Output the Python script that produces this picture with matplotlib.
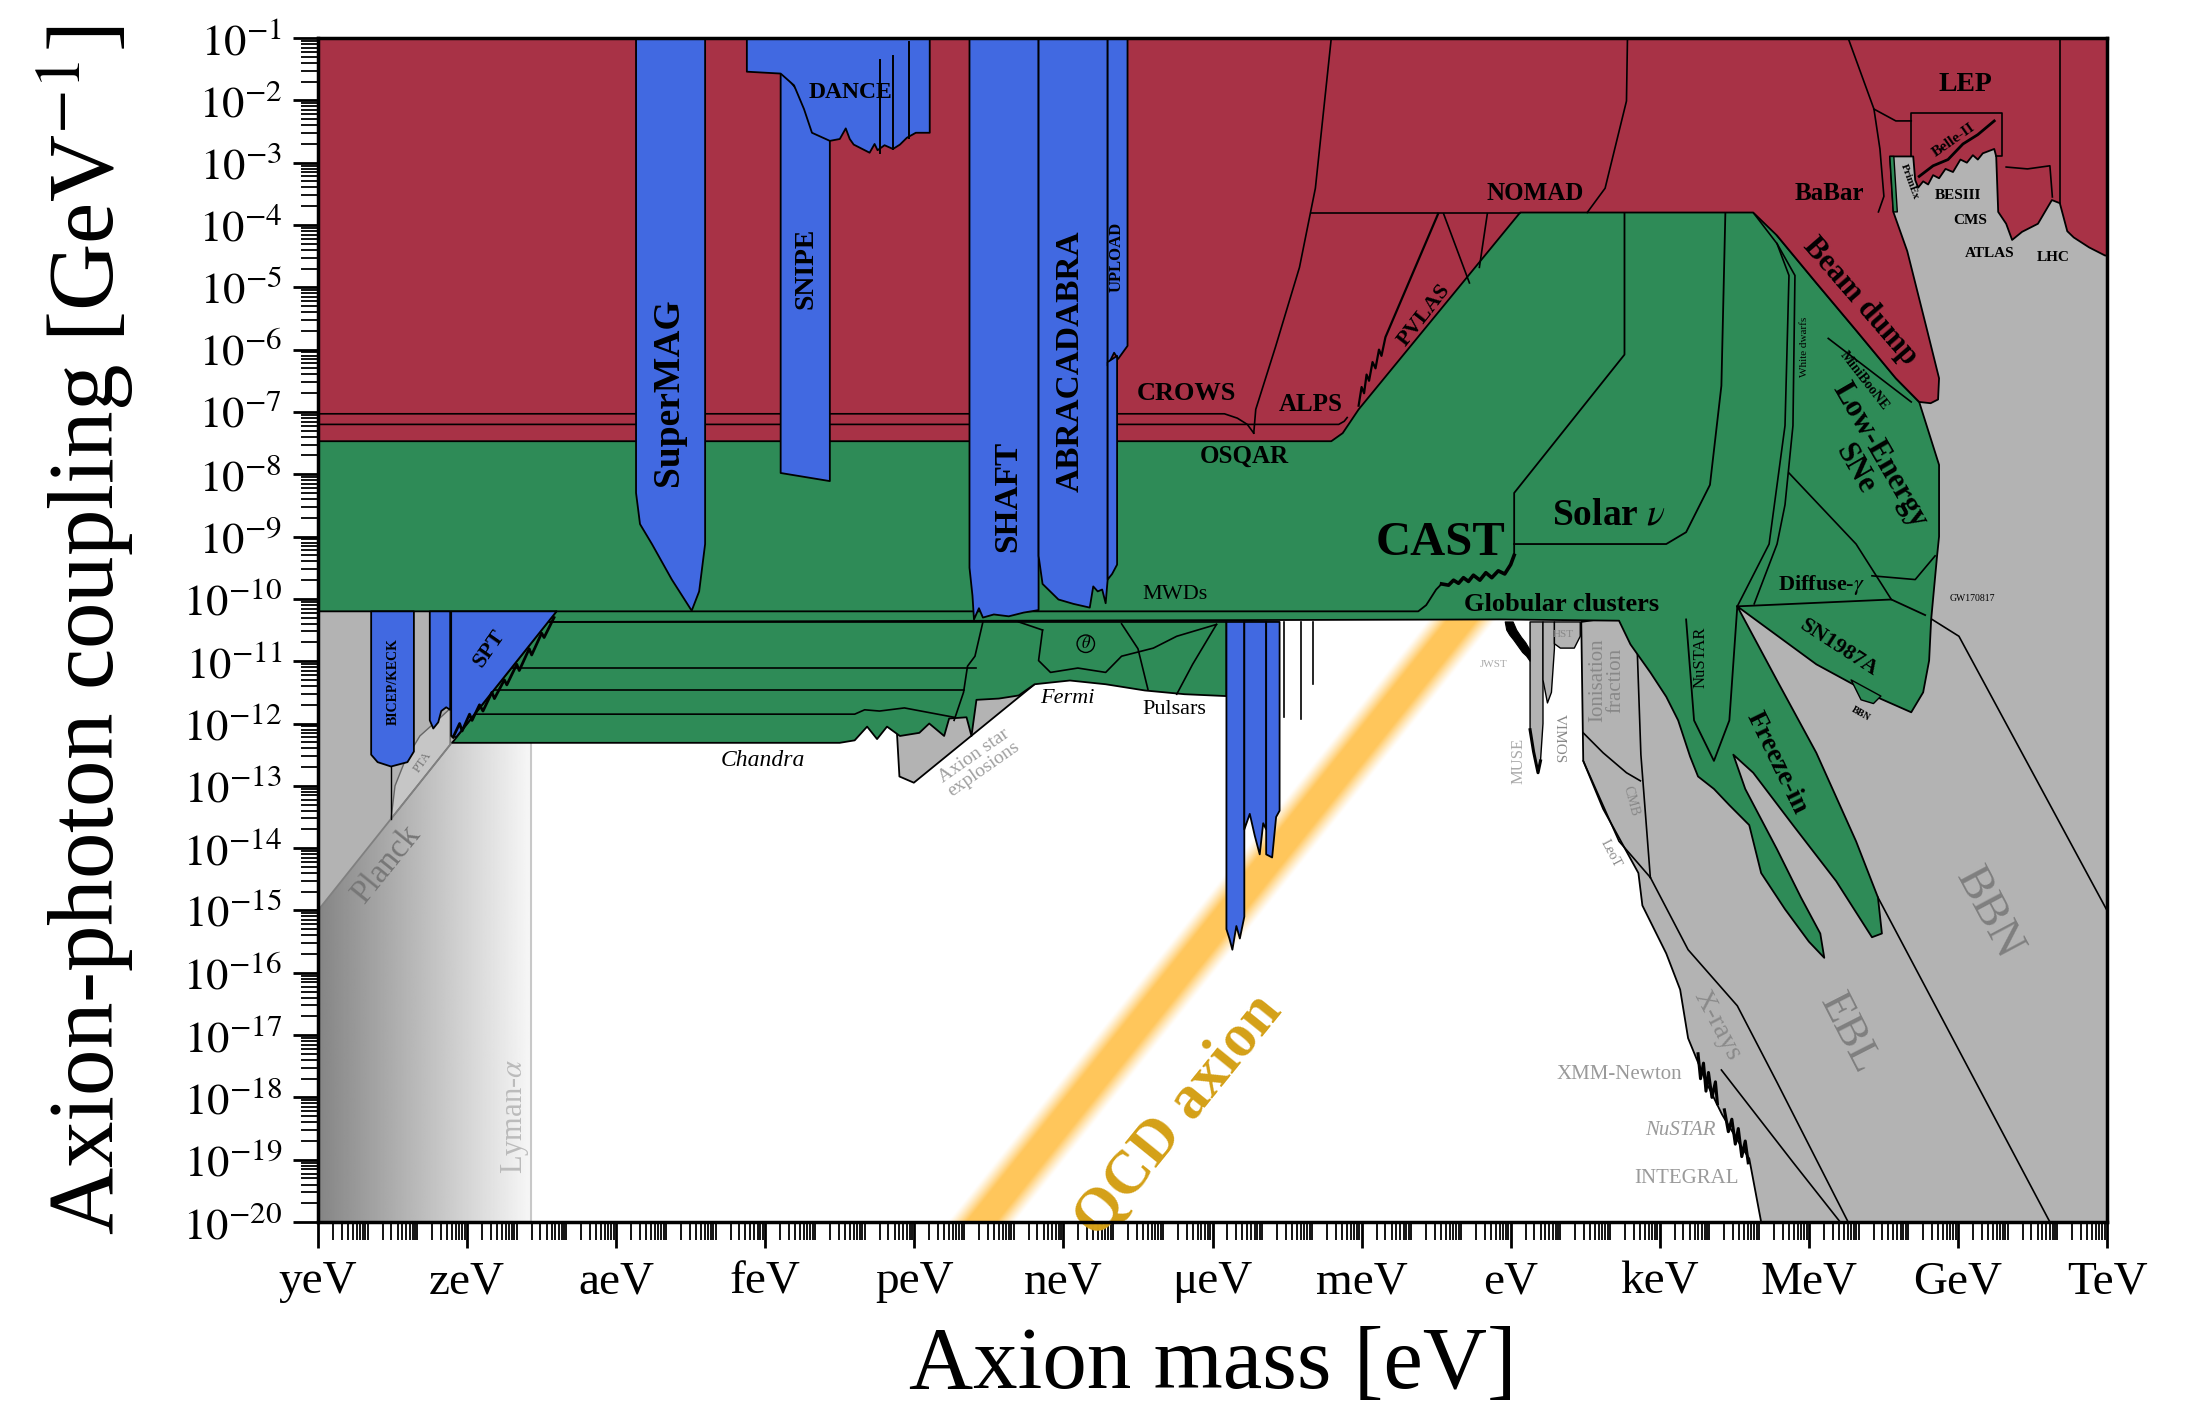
import numpy as np
import matplotlib.pyplot as plt
from matplotlib.patches import Polygon, Ellipse

plt.rcParams['font.family'] = ['Liberation Serif', 'DejaVu Serif']
plt.rcParams['mathtext.fontset'] = 'stix'

RED = '#A83246'
BLUE = '#4169E1'
GREEN = '#2E8B57'
GREY = '#B3B3B3'

# every boundary below is a list of (log10 m_a [eV], log10 g_agg [GeV^-1])

mass_ticks = [-24, -21, -18, -15, -12, -9, -6, -3, 0, 3, 6, 9, 12]
mass_names = ['yeV', 'zeV', 'aeV', 'feV', 'peV', 'neV', 'μeV', 'meV', 'eV',
              'keV', 'MeV', 'GeV', 'TeV']
coupling_ticks = list(range(-20, 0))

# ---- lab searches (LSW, polarimetry, beam dumps, colliders) ----
lab = [(-24, -1), (12, -1), (12, -4.49), (11.96, -4.49), (11.64, -4.36),
       (11.33, -4.20), (11.2, -4.10), (11.05, -3.65), (10.89, -3.60),
       (10.61, -3.98), (10.29, -4.11), (10.09, -4.24), (9.97, -3.98),
       (9.81, -3.79), (9.77, -2.90), (9.73, -2.78), (9.5, -2.85), (9.4, -2.95),
       (9.3, -2.88), (9.18, -3.0), (9.05, -2.95), (8.9, -3.15), (8.75, -3.1),
       (8.62, -3.25), (8.5, -3.2), (8.4, -3.35), (8.3, -3.3), (8.2, -3.4),
       (8.14, -3.28), (8.10, -2.90), (7.63, -2.90), (7.70, -3.79),
       (7.98, -4.42), (8.38, -5.69), (8.62, -6.46), (8.60, -6.80),
       (8.45, -6.86), (8.22, -6.84), (7.75, -6.46), (6.95, -5.69),
       (6.15, -4.93), (5.36, -4.17), (4.88, -3.80), (0.19, -3.80),
       (-3.06, -6.96), (-3.38, -7.34), (-3.61, -7.47), (-24, -7.47)]
primex = [(7.63, -2.90), (7.71, -2.90), (7.78, -3.79), (7.70, -3.79)]
crows = [(-24, -7.03), (-5.76, -7.03), (-5.5, -7.1), (-5.3, -7.2), (-5.17, -7.34)]
alps = [(-24, -7.20), (-3.46, -7.20), (-3.35, -7.15), (-3.29, -7.09)]
alps_hi = [(-5.17, -7.34), (-5.13, -6.96), (-4.73, -5.95), (-4.25, -4.68),
           (-3.93, -3.41), (-3.61, -1.0)]
nomad = [(-4.01, -3.80), (0.19, -3.80)]
nomad_edge = [(1.54, -3.80), (1.90, -3.41), (2.33, -2.01), (2.35, -1.0)]
pvlas = [(-3.06, -6.9), (-3.0, -6.6), (-2.95, -6.7), (-2.9, -6.4), (-2.85, -6.5),
         (-2.78, -6.2), (-2.72, -6.3), (-2.65, -6.0), (-2.6, -6.1), (-2.52, -5.8),
         (-1.46, -3.82)]
alps2 = [(-0.83, -4.93), (-1.35, -3.82)]
pvlas2 = [(-0.63, -4.68), (-0.47, -3.82)]
babar = [(6.79, -1.0), (7.31, -2.14), (7.43, -2.78), (7.51, -3.54), (7.40, -3.79)]
lep_low = [(7.31, -2.14), (7.75, -2.33), (8.06, -2.33)]
lep_box = [(8.06, -2.90), (8.06, -2.20), (9.89, -2.20), (9.89, -2.90), (9.77, -2.90)]
belle = [(8.22, -3.22), (8.5, -3.05), (8.8, -2.95), (9.1, -2.7), (9.4, -2.55), (9.73, -2.33)]
cms = [(9.97, -3.07), (10.4, -3.1), (10.85, -3.05), (10.9, -3.55)]
lhc = [(11.05, -1.0), (11.05, -3.65)]
miniboone = [(6.39, -5.82), (8.06, -6.84)]

# ---- haloscopes and dark-matter searches ----
supermag = [(-17.60, -1), (-17.60, -8.30), (-17.52, -8.80), (-17.28, -9.12),
            (-16.88, -9.69), (-16.48, -10.19), (-16.33, -9.88), (-16.21, -9.12),
            (-16.21, -1)]
snipe = [(-14.69, -1.5), (-14.69, -7.98), (-13.70, -8.11), (-13.70, -2.5)]
dance = [(-15.37, -1), (-15.37, -1.54), (-14.69, -1.57), (-14.42, -1.76),
         (-14.22, -2.14), (-14.06, -2.52), (-13.70, -2.65), (-13.50, -2.62),
         (-13.38, -2.45), (-13.30, -2.62), (-13.22, -2.71), (-12.90, -2.84),
         (-12.80, -2.70), (-12.74, -2.80), (-12.60, -2.72), (-12.43, -2.78),
         (-12.29, -2.71), (-12.15, -2.60), (-11.97, -2.52), (-11.69, -2.52),
         (-11.69, -1)]
dance_spikes = [(-12.70, -1.35, -2.84), (-12.43, -1.29, -2.78), (-12.11, -1.06, -2.60)]
shaft = [(-10.89, -1), (-10.89, -9.50), (-10.83, -9.95), (-10.80, -10.33),
         (-10.70, -10.15), (-10.62, -10.30), (-10.40, -10.25), (-10.10, -10.28),
         (-9.80, -10.22), (-9.50, -10.18), (-9.50, -1)]
abracadabra = [(-9.50, -1), (-9.50, -9.31), (-9.42, -9.76), (-9.10, -10.01),
               (-8.80, -10.08), (-8.47, -10.14), (-8.40, -9.80), (-8.31, -9.88),
               (-8.22, -9.85), (-8.15, -10.07), (-8.11, -9.69), (-8.11, -1)]
upload = [(-8.11, -1), (-8.11, -6.26), (-7.98, -6.05), (-7.90, -6.15),
          (-7.71, -5.94), (-7.71, -1)]
abra_strip = [(-8.11, -6.2), (-8.11, -9.69), (-8.02, -9.60), (-7.92, -9.45), (-7.92, -6.1)]
bicep = [(-22.93, -10.2), (-22.93, -12.50), (-22.80, -12.62), (-22.53, -12.69),
         (-22.20, -12.62), (-22.07, -12.45), (-22.07, -10.2)]
cmb_strip = [(-21.75, -10.2), (-21.75, -11.95), (-21.68, -12.08), (-21.58, -11.98),
             (-21.52, -11.80), (-21.42, -11.74), (-21.34, -11.78), (-21.34, -10.2)]
spt = [(-21.32, -10.2), (-19.2, -10.2), (-21.22, -12.22), (-21.32, -12.20)]
spt_edge = [(-21.28, -12.22), (-21.15, -12.0), (-21.1, -12.12), (-20.95, -11.85),
            (-20.9, -11.95), (-20.75, -11.7), (-20.68, -11.8), (-20.5, -11.5),
            (-20.45, -11.6), (-20.25, -11.3), (-20.2, -11.38), (-20.0, -11.05),
            (-19.95, -11.15), (-19.75, -10.8), (-19.7, -10.9), (-19.5, -10.55),
            (-19.45, -10.62), (-19.25, -10.3)]
admx = [[(-5.72, -10.37), (-5.72, -15.30), (-5.66, -15.45), (-5.60, -15.63),
         (-5.52, -15.25), (-5.45, -15.45), (-5.36, -15.10), (-5.36, -10.37)],
        [(-5.36, -10.37), (-5.36, -13.70), (-5.25, -13.45), (-5.15, -13.80),
         (-5.05, -14.10), (-4.98, -13.60), (-4.92, -13.70), (-4.92, -10.37)],
        [(-4.92, -10.37), (-4.92, -14.10), (-4.80, -14.15), (-4.72, -13.50),
         (-4.65, -13.40), (-4.65, -10.37)]]
cavity_lines = [(-4.57, -11.89), (-4.21, -11.92), (-3.97, -11.37)]

# ---- astrophysics: helioscopes, stars, SNe, X/gamma-ray searches ----
astro = [(-24, -7.3), (-3.7, -7.3), (-3.2, -6.7), (0.3, -3.5), (4.88, -3.5),
         (5.36, -4.17), (6.15, -4.93), (6.95, -5.69), (7.75, -6.46), (8.22, -6.84),
         (8.62, -7.85), (8.62, -9.0), (8.58, -9.31), (8.46, -10.34), (8.42, -10.99),
         (8.30, -11.50), (8.06, -11.82), (7.35, -11.57), (6.15, -11.05),
         (4.56, -10.12), (5.36, -11.31), (6.15, -12.47), (6.95, -13.89),
         (7.39, -14.79), (7.47, -15.37), (7.27, -15.43), (6.55, -14.53),
         (5.68, -13.63), (4.88, -12.79), (4.48, -12.50), (4.72, -13.05),
         (5.36, -14.02), (5.84, -14.79), (6.23, -15.37), (6.31, -15.76),
         (6.00, -15.50), (5.52, -14.98), (5.04, -14.40), (4.80, -13.63),
         (4.40, -13.31), (4.09, -13.05), (3.77, -12.85), (3.61, -12.53),
         (3.37, -11.95), (3.13, -11.57), (2.81, -11.18), (2.41, -10.73),
         (2.18, -10.35), (-0.21, -10.33), (-19.37, -10.37), (-19.2, -10.2),
         (-24, -10.2)]
bbn_lobe = [(6.85, -11.30), (7.05, -11.62), (7.30, -11.68), (7.45, -11.56)]
lower_astro = [(-21.30, -12.31), (-19.37, -10.37), (-5.72, -10.37), (-5.72, -11.56),
               (-6.56, -11.53), (-7.36, -11.47), (-8.15, -11.37), (-8.87, -11.31),
               (-9.58, -11.37), (-9.9, -11.55), (-10.3, -11.6), (-10.75, -11.62),
               (-10.85, -12.2), (-10.95, -11.9), (-11.3, -11.92), (-11.4, -12.2),
               (-11.7, -12.0), (-11.9, -12.15), (-12.29, -12.2), (-12.55, -12.05),
               (-12.75, -12.25), (-12.95, -12.05), (-13.2, -12.27), (-13.5, -12.31)]
cast = [(-19.2, -10.2), (-1.86, -10.2), (-1.7, -10.1), (-1.5, -9.85), (-1.39, -9.76),
        (-1.25, -9.78), (-1.15, -9.70), (-1.05, -9.75), (-0.95, -9.66), (-0.85, -9.72),
        (-0.75, -9.62), (-0.62, -9.70), (-0.5, -9.58), (-0.38, -9.66), (-0.25, -9.55),
        (-0.12, -9.60), (0.0, -9.45), (0.07, -9.3), (0.07, -8.30), (2.29, -6.08),
        (2.29, -3.80)]
solar_nu = [(0.07, -9.12), (3.13, -9.12), (3.53, -8.93), (4.01, -8.17),
            (4.24, -6.58), (4.32, -3.80)]
white_dwarfs = [[(4.88, -3.80), (5.36, -4.30), (5.60, -4.81), (5.52, -7.22),
                 (5.20, -9.12), (4.56, -10.12)],
                [(5.36, -4.30), (5.72, -4.81), (5.68, -7.22), (5.52, -8.49),
                 (5.36, -9.12), (4.9, -10.08)]]
low_energy_sne = [[(5.60, -7.98), (6.95, -9.12), (7.66, -10.01)],
                  [(7.27, -9.63), (8.14, -9.69), (8.54, -9.31)]]
diffuse_gamma = [(4.56, -10.12), (7.66, -10.01), (8.34, -10.26)]
nustar_sun = [(3.53, -10.33), (3.69, -11.95), (4.09, -12.60), (4.40, -11.95), (4.56, -10.12)]
strip_lines = [[(-20.11, -11.11), (-10.75, -11.11)],
               [(-20.46, -11.46), (-11.0, -11.46)],
               [(-20.85, -11.85), (-13.2, -11.85), (-13.0, -11.78), (-12.7, -11.8),
                (-12.2, -11.75), (-11.2, -11.9)],
               [(-10.62, -10.37), (-10.78, -10.92), (-10.93, -11.08), (-11.01, -11.50),
                (-11.2, -11.95)],
               [(-9.42, -10.50), (-9.50, -10.99), (-9.26, -11.18), (-8.71, -11.11),
                (-8.15, -11.18), (-7.83, -10.92), (-7.19, -10.79), (-6.72, -10.60),
                (-5.92, -10.41)],
               [(-9.9, -10.37), (-9.42, -10.50)],
               [(-7.83, -10.40), (-7.5, -10.8), (-7.3, -11.45)],
               [(-5.92, -10.41), (-6.4, -11.05), (-6.72, -11.53)]]

# ---- cosmology and telescopes ----
cosmo_left = [(-24, -15), (-19.2, -10.2), (-24, -10.2)]
pta = [(-22.53, -13.53), (-22.45, -13.0), (-22.25, -12.6), (-21.95, -12.2),
       (-21.6, -11.95), (-21.34, -11.76), (-21.34, -12.34)]
planck = [(-24, -15), (-21.3, -12.3)]
lyman_alpha = -19.71
axion_stars = [(-12.35, -12.15), (-12.30, -12.85), (-12.01, -12.95), (-9.58, -11.37),
               (-10.5, -11.5)]
cosmo_right = [(1.42, -10.37), (1.46, -12.60), (1.86, -13.37), (2.57, -14.40),
               (2.65, -14.92), (3.13, -15.69), (3.41, -16.27), (3.57, -17.05),
               (3.93, -17.75), (4.25, -18.27), (4.64, -18.79), (4.80, -18.98),
               (5.04, -20), (12, -20), (12, -2.5), (7.6, -2.5), (7.6, -7.0), (4.5, -10.0)]
bbn = [(8.34, -10.26), (9.02, -10.60), (12, -15.0)]
ebl = [[(7.39, -14.79), (10.85, -20)],
       [(2.81, -14.47), (3.57, -15.63), (4.56, -16.53), (5.36, -17.76), (6.79, -20)],
       [(4.24, -17.56), (5.68, -19.04), (6.63, -20)]]
leo_t = [(1.46, -12.60), (2.18, -13.89), (2.81, -14.47)]
cmb_line = [(2.55, -10.9), (2.62, -12.5), (2.81, -14.47)]
ionisation = [(1.46, -12.15), (1.86, -12.47), (2.33, -12.79), (2.61, -12.92)]
xray_tufts = [[(3.77, -17.3), (3.82, -17.7), (3.88, -17.45), (3.93, -17.9),
               (3.98, -17.6), (4.05, -18.0), (4.12, -17.75), (4.16, -18.1)],
              [(4.3, -18.2), (4.38, -18.55), (4.45, -18.35), (4.52, -18.75),
               (4.58, -18.5), (4.65, -18.95), (4.72, -18.7), (4.78, -19.05)]]
jwst = [(-0.11, -10.37), (0.05, -10.37), (0.12, -10.5), (0.22, -10.62), (0.30, -10.7),
        (0.39, -10.82), (0.39, -11.0), (0.32, -10.92), (0.24, -10.86), (0.15, -10.76),
        (0.06, -10.66), (-0.02, -10.58), (-0.08, -10.5)]
muse = [(0.39, -10.37), (0.39, -12.1), (0.46, -12.45), (0.55, -12.79), (0.60, -12.6),
        (0.65, -12.0), (0.65, -10.37)]
vimos = [(0.65, -10.37), (0.65, -11.3), (0.74, -11.67), (0.82, -11.5), (0.88, -10.8),
         (0.88, -10.37)]
hst = [(0.88, -10.37), (0.88, -10.72), (1.0, -10.79), (1.28, -10.79), (1.40, -10.6),
       (1.40, -10.37)]

# KSVZ/DFSZ band: two points on its centre line
qcd_band = [(-10.65, -20.0), (-0.65, -10.0)]


fig = plt.figure(figsize=(21.93, 14.09), dpi=100)
ax = fig.add_axes([0.1450, 0.1327, 0.8158, 0.8403])


def region(pts, fc, z, ec='k', lw=1.3):
    ax.add_patch(Polygon(pts, closed=True, facecolor=fc, edgecolor=ec, lw=lw,
                         zorder=z, joinstyle='round'))


def line(pts, z, c='k', lw=1.3):
    p = np.array(pts)
    ax.plot(p[:, 0], p[:, 1], color=c, lw=lw, zorder=z, solid_joinstyle='round')


def label(s, x, y, size, rot=0, color='k', weight='bold', style='normal'):
    ax.text(x, y, s, fontsize=size, rotation=rot, color=color, weight=weight,
            style=style, ha='center', va='center', rotation_mode='anchor',
            zorder=10, linespacing=0.95)


# QCD axion band, soft edged
gx = np.linspace(-24, 12, 1400)
gy = np.linspace(-20, -1, 760)
X, Y = np.meshgrid(gx, gy)
(x0, y0), (x1, y1) = qcd_band
u = X - (x0 + (Y - y0) * (x1 - x0) / (y1 - y0))
band = np.zeros(X.shape + (4,))
band[..., 0], band[..., 1], band[..., 2] = 1.0, 0.78, 0.36
band[..., 3] = np.clip((0.68 - np.abs(u)) / 0.38, 0, 1) ** 1.2
ax.imshow(band, extent=[-24, 12, -20, -1], origin='lower', aspect='auto',
          interpolation='bilinear', zorder=0.5)

# dark-to-white shading below the Planck line, cut at Lyman-alpha
shade = np.tile(np.linspace(0.52, 0.97, 256), (2, 1))
im = ax.imshow(shade, extent=[-24, lyman_alpha, -20, -10.2], origin='lower',
               aspect='auto', cmap='gray', vmin=0, vmax=1, zorder=1)
clip = Polygon([(-24, -20), (lyman_alpha, -20), (lyman_alpha, -10.71), (-24, -15)],
               transform=ax.transData, facecolor='none', edgecolor='none')
im.set_clip_path(clip)
ax.plot([lyman_alpha, lyman_alpha], [-20, -12.31], color='#C8C8C8', lw=1.5, zorder=1.5)

# grey: cosmology and telescopes
region(cosmo_left, GREY, 2, lw=0)
region(pta, '#C6C6C6', 2.2, ec='#666666', lw=1)
line(planck, 2.3, c='#808080', lw=1.3)
line([(-22.53, -12.69), (-22.53, -13.53)], 2.3, lw=1)
region(cosmo_right, GREY, 2)
region(axion_stars, GREY, 2)
for t in (muse, vimos, hst):
    region(t, GREY, 2, lw=1)
region(jwst, 'k', 2.1, lw=0.8)
line(muse[1:5], 2.2, lw=2.2)
for pts in [bbn, leo_t, cmb_line, ionisation] + ebl:
    line(pts, 2.5, lw=1.2)
for pts in xray_tufts:
    line(pts, 2.5, lw=2.2)
for xm, yb in cavity_lines:
    ax.plot([xm, xm], [-10.37, yb], color='k', lw=1.2, zorder=2.5)

# green: astrophysics
region(lower_astro, GREEN, 3)
region(astro, GREEN, 3)
region(bbn_lobe, GREEN, 3, lw=1)
line(cast, 3.5)
line(cast[4:18], 3.6, lw=2.6)
line(solar_nu, 3.5)
line(diffuse_gamma, 3.5)
line(nustar_sun, 3.5)
for pts in white_dwarfs + low_energy_sne + strip_lines:
    line(pts, 3.5, lw=1.2)
ax.add_patch(Ellipse((-8.55, -10.72), 0.35, 0.28, fill=False, ec='k', lw=1.0, zorder=3.6))

# red: laboratory searches
region(lab, RED, 5)
region(primex, GREEN, 5.2, lw=1)
for pts in [crows, alps, alps_hi, nomad, nomad_edge, alps2, pvlas2, babar, lep_low,
            lep_box, cms, lhc, miniboone]:
    line(pts, 5.5, lw=1.2)
line(pvlas, 5.5, lw=1.6)
line(belle, 5.5, lw=2.0)

# blue: haloscopes and dark-matter searches
region(snipe, BLUE, 6)
region(dance, BLUE, 6.1)
for xm, yt, yb in dance_spikes:
    ax.plot([xm, xm], [yt, yb], color='k', lw=1.4, zorder=6.2)
for pts in (supermag, shaft, abracadabra, upload, abra_strip, bicep, cmb_strip, spt):
    region(pts, BLUE, 6)
for pts in admx:
    region(pts, BLUE, 6)
line(spt_edge, 6.5, lw=2.0)

# labels
label('DANCE', -13.29, -1.87, 17)
label('SuperMAG', -16.94, -6.68, 27, rot=90)
label('SNIPE', -14.18, -4.70, 20, rot=90)
label('SHAFT', -10.13, -8.36, 24, rot=90)
label('ABRACADABRA', -8.86, -6.18, 24, rot=90)
label('UPLOAD', -7.93, -4.51, 12, rot=90)
label('CROWS', -6.53, -6.70, 19)
label('ALPS', -4.03, -6.88, 18)
label('OSQAR', -5.35, -7.71, 18)
label('PVLAS', -1.75, -5.44, 16, rot=52)
label('NOMAD', 0.50, -3.49, 18)
label('BaBar', 6.41, -3.49, 18)
label('LEP', 9.15, -1.74, 20)
label('Belle-II', 8.92, -2.64, 11, rot=35)
label('PrimEx', 8.03, -3.31, 8, rot=-70)
label('BESIII', 9.01, -3.53, 11)
label('CMS', 9.24, -3.92, 11)
label('ATLAS', 9.63, -4.46, 11)
label('LHC', 10.92, -4.52, 11)
label('Beam dump', 7.04, -5.22, 22, rot=-49)
label('MiniBooNE', 7.12, -6.50, 10, rot=-52)
label('White dwarfs', 5.92, -5.95, 8, rot=90, weight='normal')
label('Low-Energy\nSNe', 7.18, -7.80, 22, rot=-60)
label(r'Solar $\nu$', 1.97, -8.65, 27)
label('CAST', -1.41, -9.10, 35)
label(r'Diffuse-$\gamma$', 6.25, -9.77, 16)
label('Globular clusters', 1.02, -10.09, 19)
label('MWDs', -6.76, -9.93, 16, weight='normal')
label('GW170817', 9.29, -10.0, 7, weight='normal')
label('SN1987A', 6.61, -10.79, 16, rot=-33)
label('BBN', 7.04, -11.84, 7, rot=-30)
label('NuSTAR', 3.82, -10.94, 12, rot=90, weight='normal')
label('Freeze-in', 5.35, -12.63, 20, rot=-64)
label('Fermi', -8.93, -11.60, 16, weight='normal', style='italic')
label('Pulsars', -6.76, -11.78, 16, weight='normal')
label('Chandra', -15.05, -12.60, 17, weight='normal', style='italic')
label(r'$\theta$', -8.55, -10.72, 12, weight='normal')
label('Axion star\nexplosions', -10.7, -12.62, 14, rot=35, color='#A0A0A0', weight='normal')
label('SPT', -20.55, -10.8, 16, rot=55)
label('BICEP/KECK', -22.49, -11.33, 10, rot=90)
label('PTA', -21.9, -12.62, 9, rot=55, color='#777777', weight='normal')
label('Planck', -22.63, -14.26, 24, rot=51, color='#777777', weight='normal')
label(r'Lyman-$\alpha$', -20.04, -18.31, 22, rot=90, color='#BBBBBB', weight='normal')
label('QCD axion', -6.67, -18.30, 44, rot=51, color='#D4A017')
label('BBN', 9.62, -15.05, 34, rot=-62, color='#7F7F7F', weight='normal')
label('EBL', 6.79, -16.98, 32, rot=-63, color='#7F7F7F', weight='normal')
label('X-rays', 4.16, -16.85, 20, rot=-62, color='#8A8A8A', weight='normal')
label('XMM-Newton', 2.18, -17.63, 15, color='#9A9A9A', weight='normal')
label('NuSTAR', 3.41, -18.53, 15, color='#9A9A9A', weight='normal', style='italic')
label('INTEGRAL', 3.53, -19.30, 15, color='#9A9A9A', weight='normal')
label('LeoT', 2.02, -14.08, 10, rot=-62, color='#888888', weight='normal')
label('CMB', 2.41, -13.24, 10, rot=-75, color='#888888', weight='normal')
label('Ionisation\nfraction', 1.94, -11.31, 15, rot=90, color='#888888', weight='normal')
label('MUSE', 0.15, -12.60, 12, rot=90, color='#AAAAAA', weight='normal')
label('VIMOS', 0.98, -12.24, 11, rot=-90, color='#888888', weight='normal')
label('HST', 1.06, -10.57, 8, color='#888888', weight='normal')
label('JWST', -0.35, -11.05, 8, color='#AAAAAA', weight='normal')

# axes
ax.set_xlim(-24, 12)
ax.set_ylim(-20, -1)
ax.set_xticks(mass_ticks)
ax.set_xticklabels(mass_names)
ax.set_xticks([n + np.log10(k) for n in range(-24, 12) for k in range(1, 10)
               if not (k == 1 and n % 3 == 0)], minor=True)
ax.set_yticks(coupling_ticks)
ax.set_yticklabels([r'$10^{%d}$' % n for n in coupling_ticks])
ax.set_yticks([n + np.log10(k) for n in range(-20, -1) for k in range(2, 10)], minor=True)
ax.tick_params(axis='x', which='major', direction='out', length=19, width=2,
               labelsize=34, pad=9)
ax.tick_params(axis='x', which='minor', direction='out', length=13, width=1.3)
ax.tick_params(axis='y', which='major', direction='out', length=18, width=2,
               labelsize=32, pad=8)
ax.tick_params(axis='y', which='minor', direction='out', length=12, width=1.3)
for s in ax.spines.values():
    s.set_linewidth(2.5)
    s.set_zorder(12)
ax.set_xlabel('Axion mass [eV]', fontsize=64, labelpad=16)
ax.set_ylabel(r'Axion-photon coupling [GeV$^{-1}$]', fontsize=67, labelpad=34)

fig.savefig('out.png', dpi=100)
